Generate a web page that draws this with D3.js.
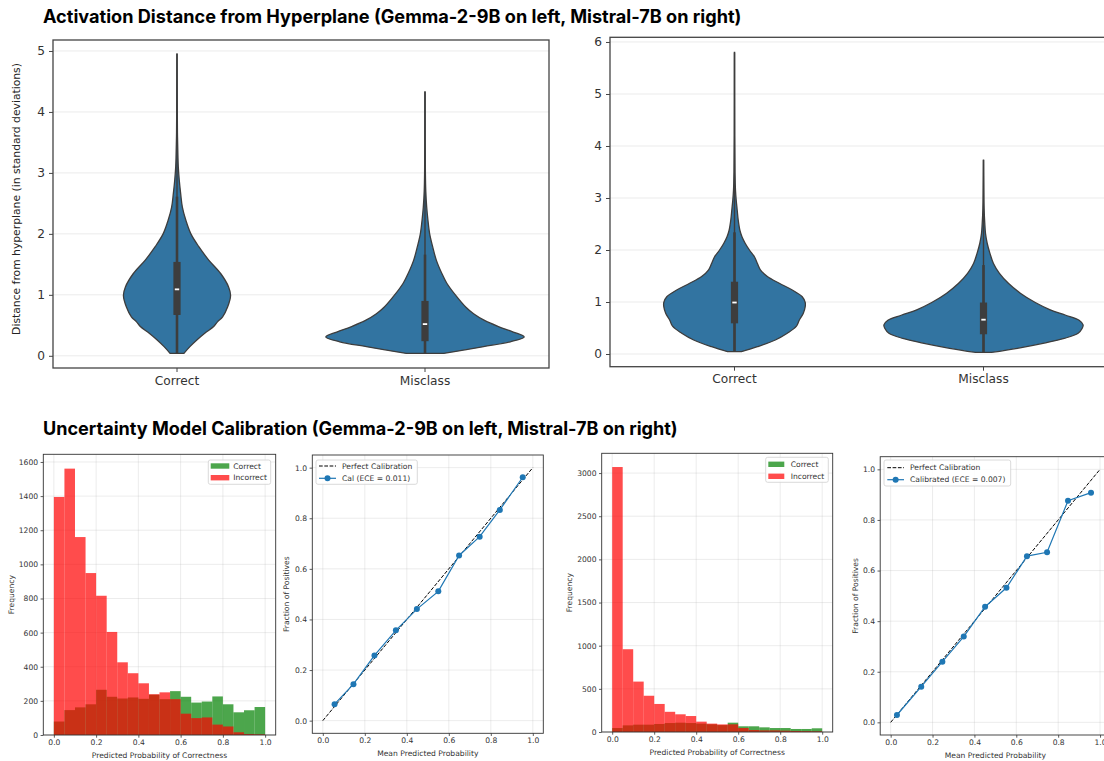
<!DOCTYPE html>
<html>
<head>
<meta charset="utf-8">
<script src="https://cdn.jsdelivr.net/npm/d3@7"></script>
<style>
  body { margin: 0; background: #fff; }
  svg { display: block; }
  text { font-family: "DejaVu Sans", sans-serif; }
</style>
</head>
<body>
<svg id="fig" width="1104" height="761"></svg>
<script>
// ---------- data ----------
const violinCategories = ["Correct", "Misclass"];

// violin outlines: [distance, relative half-width]
const gemmaCorrectDensity = [[0.04,0.07],[0.15,0.13],[0.26,0.20],[0.37,0.28],[0.48,0.37],[0.56,0.41],[0.64,0.46],[0.80,0.51],[0.99,0.54],[1.13,0.52],[1.35,0.44],[1.57,0.32],[1.79,0.22],[2.0,0.14],[2.22,0.09],[2.44,0.054],[2.66,0.037],[2.88,0.023],[3.1,0.013],[3.3,0.009],[3.6,0.005],[4.0,0.003],[4.95,0.001]];
const gemmaMisclassDensity = [[0.04,0.19],[0.15,0.59],[0.23,0.86],[0.31,1.0],[0.39,0.89],[0.48,0.74],[0.58,0.60],[0.69,0.49],[0.80,0.41],[0.99,0.31],[1.19,0.22],[1.35,0.17],[1.57,0.114],[1.79,0.077],[2.0,0.047],[2.22,0.03],[2.44,0.017],[2.7,0.008],[3.0,0.004],[3.5,0.002],[4.33,0.001]];
const mistralCorrectDensity = [[0.045,0.07],[0.14,0.23],[0.27,0.41],[0.40,0.53],[0.53,0.62],[0.65,0.65],[0.78,0.69],[0.91,0.71],[0.99,0.71],[1.10,0.68],[1.23,0.58],[1.36,0.45],[1.49,0.33],[1.62,0.26],[1.74,0.23],[1.87,0.20],[2.0,0.15],[2.13,0.107],[2.26,0.074],[2.38,0.054],[2.58,0.037],[2.77,0.027],[2.96,0.017],[3.15,0.01],[3.5,0.005],[4.2,0.002],[5.8,0.001]];
const mistralMisclassDensity = [[0.03,0.08],[0.11,0.34],[0.21,0.61],[0.30,0.81],[0.40,0.95],[0.49,0.99],[0.56,1.0],[0.65,0.96],[0.75,0.82],[0.85,0.67],[0.99,0.52],[1.17,0.37],[1.36,0.25],[1.55,0.16],[1.74,0.10],[1.94,0.064],[2.13,0.037],[2.32,0.02],[2.51,0.013],[2.8,0.006],[3.2,0.003],[3.73,0.001]];

// box summary per violin: [min, q1, median, q3, upper whisker, max]
const gemmaBoxStats = [[0.04, 0.67, 1.09, 1.54, 2.61, 4.95], [0.04, 0.24, 0.52, 0.90, 1.66, 4.33]];
const mistralBoxStats = [[0.045, 0.59, 0.99, 1.39, 2.34, 5.8], [0.03, 0.38, 0.66, 0.99, 1.71, 3.73]];

const gemmaViolinTicks = [0, 1, 2, 3, 4, 5];
const mistralViolinTicks = [0, 1, 2, 3, 4, 5, 6];

// histograms of predicted probability (20 bins)
const binEdges = [0.00,0.05,0.10,0.15,0.20,0.25,0.30,0.35,0.40,0.45,0.50,0.55,0.60,0.65,0.70,0.75,0.80,0.85,0.90,0.95,1.00];
const gemmaCorrectCounts = [79, 146, 162, 180, 265, 224, 214, 220, 212, 236, 210, 257, 224, 190, 196, 226, 180, 133, 145, 164];
const gemmaIncorrectCounts = [1395, 1561, 1160, 949, 816, 604, 426, 362, 303, 239, 250, 210, 125, 99, 103, 61, 50, 16, 6, 4];
const mistralCorrectCounts = [46, 77, 85, 85, 93, 104, 108, 104, 97, 89, 80, 108, 66, 66, 54, 46, 46, 35, 35, 43];
const mistralIncorrectCounts = [3070, 959, 584, 420, 325, 234, 205, 185, 120, 97, 88, 89, 46, 23, 19, 19, 15, 12, 10, 8];
const gemmaFreqTicks = [0, 200, 400, 600, 800, 1000, 1200, 1400, 1600];
const mistralFreqTicks = [0, 500, 1000, 1500, 2000, 2500, 3000];
const probTicks = [0, 0.2, 0.4, 0.6, 0.8, 1.0];

// reliability curves
const gemmaCalX = [0.056, 0.146, 0.246, 0.348, 0.448, 0.550, 0.649, 0.747, 0.843, 0.952];
const gemmaCalY = [0.065, 0.144, 0.258, 0.357, 0.441, 0.511, 0.653, 0.727, 0.833, 0.962];
const mistralCalX = [0.030, 0.146, 0.247, 0.349, 0.451, 0.553, 0.651, 0.747, 0.847, 0.957];
const mistralCalY = [0.029, 0.141, 0.240, 0.339, 0.457, 0.532, 0.657, 0.672, 0.876, 0.908];
const perfectLine = [[0, 0], [1, 1]];

// ---------- drawing ----------
const svg = d3.select("#fig");
const violinFill = "#3274a1", darkLine = "#3d3d3d";

// shrink/grow font so a text fills the width it has in the picture
function fitText(sel, width) {
  const w = sel.node().getComputedTextLength();
  const fs = parseFloat(sel.attr("font-size"));
  sel.attr("font-size", fs * width / w);
}

function title(x, y, str, width) {
  const t = svg.append("text").attr("x", x).attr("y", y)
    .attr("font-size", 18).attr("font-weight", 700)
    .style("font-family", "Inter, 'Liberation Sans', sans-serif")
    .attr("fill", "#000").text(str);
  fitText(t, width);
}

function violinPanel(f, yDomain, ticks, densities, stats, yLabel) {
  const g = svg.append("g");
  const x = d3.scaleBand().domain(violinCategories).range([f.x0, f.x1]);
  const y = d3.scaleLinear().domain(yDomain).range([f.y1, f.y0]);
  const w = d3.scaleLinear().domain([0, 1]).range([0, x.bandwidth() * 0.4]);

  g.selectAll(".grid").data(ticks).enter().append("line")
    .attr("x1", f.x0).attr("x2", f.x1)
    .attr("y1", d => y(d)).attr("y2", d => y(d))
    .attr("stroke", "#ebebeb").attr("stroke-width", 1);

  violinCategories.forEach((c, i) => {
    const cx = x(c) + x.bandwidth() / 2;
    const area = d3.area().curve(d3.curveCatmullRom)
      .y(d => y(d[0])).x0(d => cx - w(d[1])).x1(d => cx + w(d[1]));
    g.append("path").attr("d", area(densities[i]))
      .attr("fill", violinFill).attr("stroke", darkLine).attr("stroke-width", 1.3);
    const s = stats[i];
    g.append("line").attr("x1", cx).attr("x2", cx).attr("y1", y(s[0])).attr("y2", y(s[5]))
      .attr("stroke", darkLine).attr("stroke-width", 1.4);
    g.append("line").attr("x1", cx).attr("x2", cx).attr("y1", y(s[0])).attr("y2", y(s[4]))
      .attr("stroke", darkLine).attr("stroke-width", 2.6);
    g.append("rect").attr("x", cx - 3.6).attr("width", 7.2)
      .attr("y", y(s[3])).attr("height", y(s[1]) - y(s[3])).attr("fill", darkLine);
    g.append("rect").attr("x", cx - 2.2).attr("width", 4.4)
      .attr("y", y(s[2]) - 0.9).attr("height", 1.8).attr("fill", "#fff");
  });

  g.append("rect").attr("x", f.x0).attr("y", f.y0)
    .attr("width", f.x1 - f.x0).attr("height", f.y1 - f.y0)
    .attr("fill", "none").attr("stroke", "#444").attr("stroke-width", 1.3);

  const ya = g.append("g").attr("transform", `translate(${f.x0},0)`)
    .call(d3.axisLeft(y).tickValues(ticks).tickSize(4).tickPadding(4).tickFormat(d3.format("d")));
  const xa = g.append("g").attr("transform", `translate(0,${f.y1})`)
    .call(d3.axisBottom(x).tickSize(4).tickPadding(4));
  [ya, xa].forEach(a => {
    a.select(".domain").remove();
    a.selectAll("line").attr("stroke", "#444");
    a.selectAll("text").attr("font-size", 12.2).attr("fill", "#333")
      .style("font-family", "'DejaVu Sans', sans-serif");
  });

  if (yLabel) {
    const t = g.append("text").attr("transform", `translate(${yLabel.x},${yLabel.y}) rotate(-90)`)
      .attr("text-anchor", "middle").attr("font-size", 11.5).attr("fill", "#222").text(yLabel.text);
    fitText(t, yLabel.len);
  }
}

function smallAxes(g, f, x, y, xTicks, yTicks, xFmt, yFmt, xLabel, yLabel) {
  xTicks.forEach(d => g.append("line").attr("x1", x(d)).attr("x2", x(d)).attr("y1", f.y0).attr("y2", f.y1)
    .attr("stroke", "#b0b0b0").attr("stroke-opacity", 0.3).attr("stroke-width", 0.8));
  yTicks.forEach(d => g.append("line").attr("y1", y(d)).attr("y2", y(d)).attr("x1", f.x0).attr("x2", f.x1)
    .attr("stroke", "#b0b0b0").attr("stroke-opacity", 0.3).attr("stroke-width", 0.8));
}

function finishSmall(g, f, x, y, xTicks, yTicks, xFmt, yFmt, xLabel, yLabel) {
  g.append("rect").attr("x", f.x0).attr("y", f.y0)
    .attr("width", f.x1 - f.x0).attr("height", f.y1 - f.y0)
    .attr("fill", "none").attr("stroke", "#333").attr("stroke-width", 0.9);
  const ya = g.append("g").attr("transform", `translate(${f.x0},0)`)
    .call(d3.axisLeft(y).tickValues(yTicks).tickSize(2.7).tickPadding(2.5).tickFormat(yFmt));
  const xa = g.append("g").attr("transform", `translate(0,${f.y1})`)
    .call(d3.axisBottom(x).tickValues(xTicks).tickSize(2.7).tickPadding(2).tickFormat(xFmt));
  [ya, xa].forEach(a => {
    a.select(".domain").remove();
    a.selectAll("line").attr("stroke", "#333").attr("stroke-width", 0.8);
    a.selectAll("text").attr("font-size", 7.6).attr("fill", "#333")
      .style("font-family", "'DejaVu Sans', sans-serif");
  });
  g.append("text").attr("x", (f.x0 + f.x1) / 2).attr("y", f.y1 + 22.5)
    .attr("text-anchor", "middle").attr("font-size", 7.6).attr("fill", "#333").text(xLabel);
  g.append("text").attr("transform", `translate(${yLabel.x},${(f.y0 + f.y1) / 2}) rotate(-90)`)
    .attr("text-anchor", "middle").attr("font-size", 7.6).attr("fill", "#333").text(yLabel.text);
}

function legendBox(g, b) {
  g.append("rect").attr("x", b.x).attr("y", b.y).attr("width", b.w).attr("height", b.h)
    .attr("rx", 2).attr("fill", "#fff").attr("fill-opacity", 0.85)
    .attr("stroke", "#d0d0d0").attr("stroke-width", 0.8);
}

function histPanel(f, yMax, yTicks, correct, incorrect, lg) {
  const g = svg.append("g");
  const x = d3.scaleLinear().domain([-0.05, 1.05]).range([f.x0, f.x1]);
  const y = d3.scaleLinear().domain([0, yMax]).range([f.y1, f.y0]);
  smallAxes(g, f, x, y, probTicks, yTicks);
  [[correct, "green"], [incorrect, "red"]].forEach(([counts, col]) => {
    g.selectAll(null).data(counts).enter().append("rect")
      .attr("x", (d, i) => x(binEdges[i]))
      .attr("width", (d, i) => x(binEdges[i + 1]) - x(binEdges[i]))
      .attr("y", d => y(d)).attr("height", d => y(0) - y(d))
      .attr("fill", col).attr("fill-opacity", 0.7);
  });
  finishSmall(g, f, x, y, probTicks, yTicks, d3.format(".1f"), d3.format("d"),
    "Predicted Probability of Correctness", {x: lg.yLabelX, text: "Frequency"});
  legendBox(g, lg.box);
  [["Correct", "green"], ["Incorrect", "red"]].forEach(([name, col], i) => {
    const ry = lg.rows[i];
    g.append("rect").attr("x", lg.patchX).attr("y", ry - 2.7).attr("width", lg.patchW).attr("height", 5.4)
      .attr("fill", col).attr("fill-opacity", 0.7);
    g.append("text").attr("x", lg.textX).attr("y", ry + 2.7).attr("font-size", 7.6).attr("fill", "#333").text(name);
  });
}

function calPanel(f, cx, cy, label, lg) {
  const g = svg.append("g");
  const x = d3.scaleLinear().domain([-0.05, 1.05]).range([f.x0, f.x1]);
  const y = d3.scaleLinear().domain([-0.05, 1.05]).range([f.y1, f.y0]);
  smallAxes(g, f, x, y, probTicks, probTicks);
  const line = d3.line().x(d => x(d[0])).y(d => y(d[1]));
  g.append("path").attr("d", line(perfectLine)).attr("fill", "none")
    .attr("stroke", "#000").attr("stroke-width", 1).attr("stroke-dasharray", "3.7,1.6");
  const pts = cx.map((v, i) => [v, cy[i]]);
  g.append("path").attr("d", line(pts)).attr("fill", "none")
    .attr("stroke", "#1f77b4").attr("stroke-width", 1.2);
  g.selectAll(null).data(pts).enter().append("circle")
    .attr("cx", d => x(d[0])).attr("cy", d => y(d[1])).attr("r", 3).attr("fill", "#1f77b4");
  finishSmall(g, f, x, y, probTicks, probTicks, d3.format(".1f"), d3.format(".1f"),
    "Mean Predicted Probability", {x: lg.yLabelX, text: "Fraction of Positives"});
  legendBox(g, lg.box);
  const [r1, r2] = lg.rows;
  g.append("line").attr("x1", lg.lineX0).attr("x2", lg.lineX1).attr("y1", r1).attr("y2", r1)
    .attr("stroke", "#000").attr("stroke-width", 1).attr("stroke-dasharray", "3.7,1.6");
  g.append("text").attr("x", lg.textX).attr("y", r1 + 2.7).attr("font-size", 7.6).attr("fill", "#333").text("Perfect Calibration");
  g.append("line").attr("x1", lg.lineX0).attr("x2", lg.lineX1).attr("y1", r2).attr("y2", r2)
    .attr("stroke", "#1f77b4").attr("stroke-width", 1.2);
  g.append("circle").attr("cx", (lg.lineX0 + lg.lineX1) / 2).attr("cy", r2).attr("r", 3).attr("fill", "#1f77b4");
  g.append("text").attr("x", lg.textX).attr("y", r2 + 2.7).attr("font-size", 7.6).attr("fill", "#333").text(label);
}

title(43, 22.5, "Activation Distance from Hyperplane (Gemma-2-9B on left, Mistral-7B on right)", 699);
title(43, 434.5, "Uncertainty Model Calibration (Gemma-2-9B on left, Mistral-7B on right)", 635);

violinPanel({x0: 53, x1: 549, y0: 40, y1: 368}, [-0.20, 5.18], gemmaViolinTicks,
  [gemmaCorrectDensity, gemmaMisclassDensity], gemmaBoxStats,
  {x: 20, y: 199, len: 272, text: "Distance from hyperplane (in standard deviations)"});
violinPanel({x0: 610, x1: 1108, y0: 37.3, y1: 366.7}, [-0.244, 6.09], mistralViolinTicks,
  [mistralCorrectDensity, mistralMisclassDensity], mistralBoxStats, null);

histPanel({x0: 43.3, x1: 275.7, y0: 454.3, y1: 735}, 1645, gemmaFreqTicks,
  gemmaCorrectCounts, gemmaIncorrectCounts,
  {box: {x: 208.3, y: 460, w: 62.4, h: 24.3}, rows: [466, 477.7], patchX: 210.7, patchW: 18.6, textX: 233.3, yLabelX: 14});
calPanel({x0: 312.3, x1: 543.3, y0: 455, y1: 733.3}, gemmaCalX, gemmaCalY, "Cal (ECE = 0.011)",
  {box: {x: 316, y: 460, w: 101.3, h: 24.3}, rows: [466, 478.3], lineX0: 319, lineX1: 336, textX: 342, yLabelX: 288.5});
histPanel({x0: 601.7, x1: 832.7, y0: 453.3, y1: 732}, 3229, mistralFreqTicks,
  mistralCorrectCounts, mistralIncorrectCounts,
  {box: {x: 765.7, y: 457.3, w: 62.6, h: 25}, rows: [464.3, 476.3], patchX: 768.3, patchW: 16, textX: 790.7, yLabelX: 571.5});
calPanel({x0: 880.2, x1: 1110.5, y0: 456.7, y1: 735}, mistralCalX, mistralCalY, "Calibrated (ECE = 0.007)",
  {box: {x: 884, y: 460, w: 126.7, h: 26}, rows: [467.7, 479.7], lineX0: 887.3, lineX1: 904, textX: 910, yLabelX: 857.5});
</script>
</body>
</html>
